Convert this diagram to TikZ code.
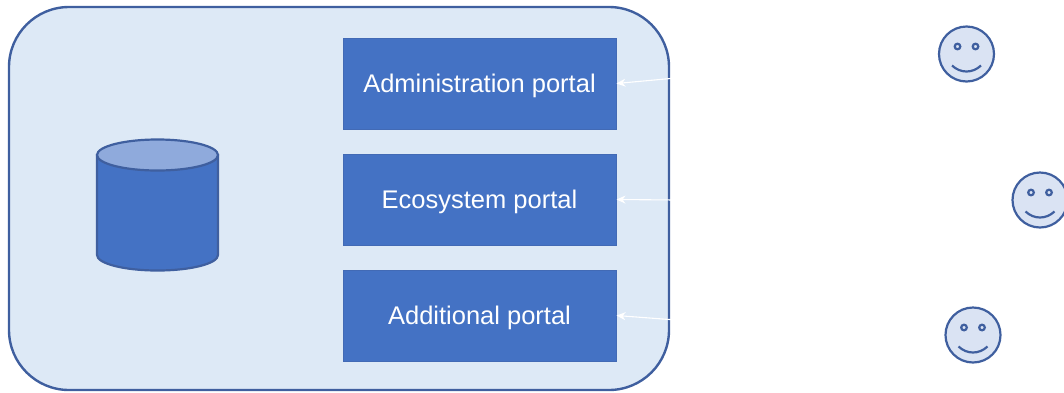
\documentclass[tikz,border=0pt]{standalone}
\usepackage{fontspec}
\setmainfont{Liberation Sans}
\usetikzlibrary{arrows.meta}
\definecolor{edgeblue}{HTML}{3F5F9F}
\definecolor{fillblue}{HTML}{4472C4}
\definecolor{paleblue}{HTML}{DDE9F6}
\definecolor{faceblue}{HTML}{DAE3F3}
\definecolor{topblue}{HTML}{8FAADC}
\tikzset{
  x=1pt,y=-1pt,
  container/.style={draw=edgeblue,line width=2.4pt,fill=paleblue,rounded corners=60pt,minimum width=660pt,minimum height=383pt,inner sep=0pt},
  portal/.style={draw=edgeblue!40!fillblue,line width=1pt,fill=fillblue,text=white,minimum width=273pt,minimum height=91pt,inner sep=0pt,text height=17pt,text depth=0pt,font=\fontsize{25.5}{30}\selectfont},
  storeline/.style={draw=edgeblue,line width=2.2pt},
  face/.style={shape=circle,draw=edgeblue,line width=2.2pt,fill=faceblue,minimum size=55pt,inner sep=0pt},
  facepart/.style={draw=edgeblue,line width=2.2pt},
  link/.style={draw=white,line width=1.1pt,-{Stealth[length=9pt,width=8pt]}}
}
\newcommand{\smiley}[3]{%
  \node[face] (#1) at (#2,#3) {};
  \draw[facepart] (#2-9,#3-7.5) circle[radius=2.8];
  \draw[facepart] (#2+9,#3-7.5) circle[radius=2.8];
  \draw[facepart] (#2-14.5,#3+11.5) .. controls (#2-6,#3+19.5) and (#2+6,#3+19.5) .. (#2+14.5,#3+11.5);
}
\begin{document}
\begin{tikzpicture}
\useasboundingbox (0,0) rectangle (1064,392);
\node[container] (system) at (339,198.5) {};
\draw[storeline,fill=fillblue] (97,155) -- (97,255) arc[start angle=180,end angle=360,x radius=60.5,y radius=-15.5] -- (218,155) -- cycle;
\draw[storeline,fill=topblue] (157.5,155) ellipse[x radius=60.5,y radius=15.5];
\node[portal] (admin) at (479.5,83.5) {Administration portal};
\node[portal] (eco) at (479.5,199.5) {Ecosystem portal};
\node[portal] (add) at (479.5,315.5) {Additional portal};
\coordinate (a1) at (676,78);
\coordinate (a2) at (676,200);
\coordinate (a3) at (676,320);
\draw[link] (a1) -- (admin.east);
\draw[link] (a2) -- (eco.east);
\draw[link] (a3) -- (add.east);
\smiley{u1}{966.5}{54}
\smiley{u2}{1040}{200}
\smiley{u3}{973}{335}
\end{tikzpicture}
\end{document}
